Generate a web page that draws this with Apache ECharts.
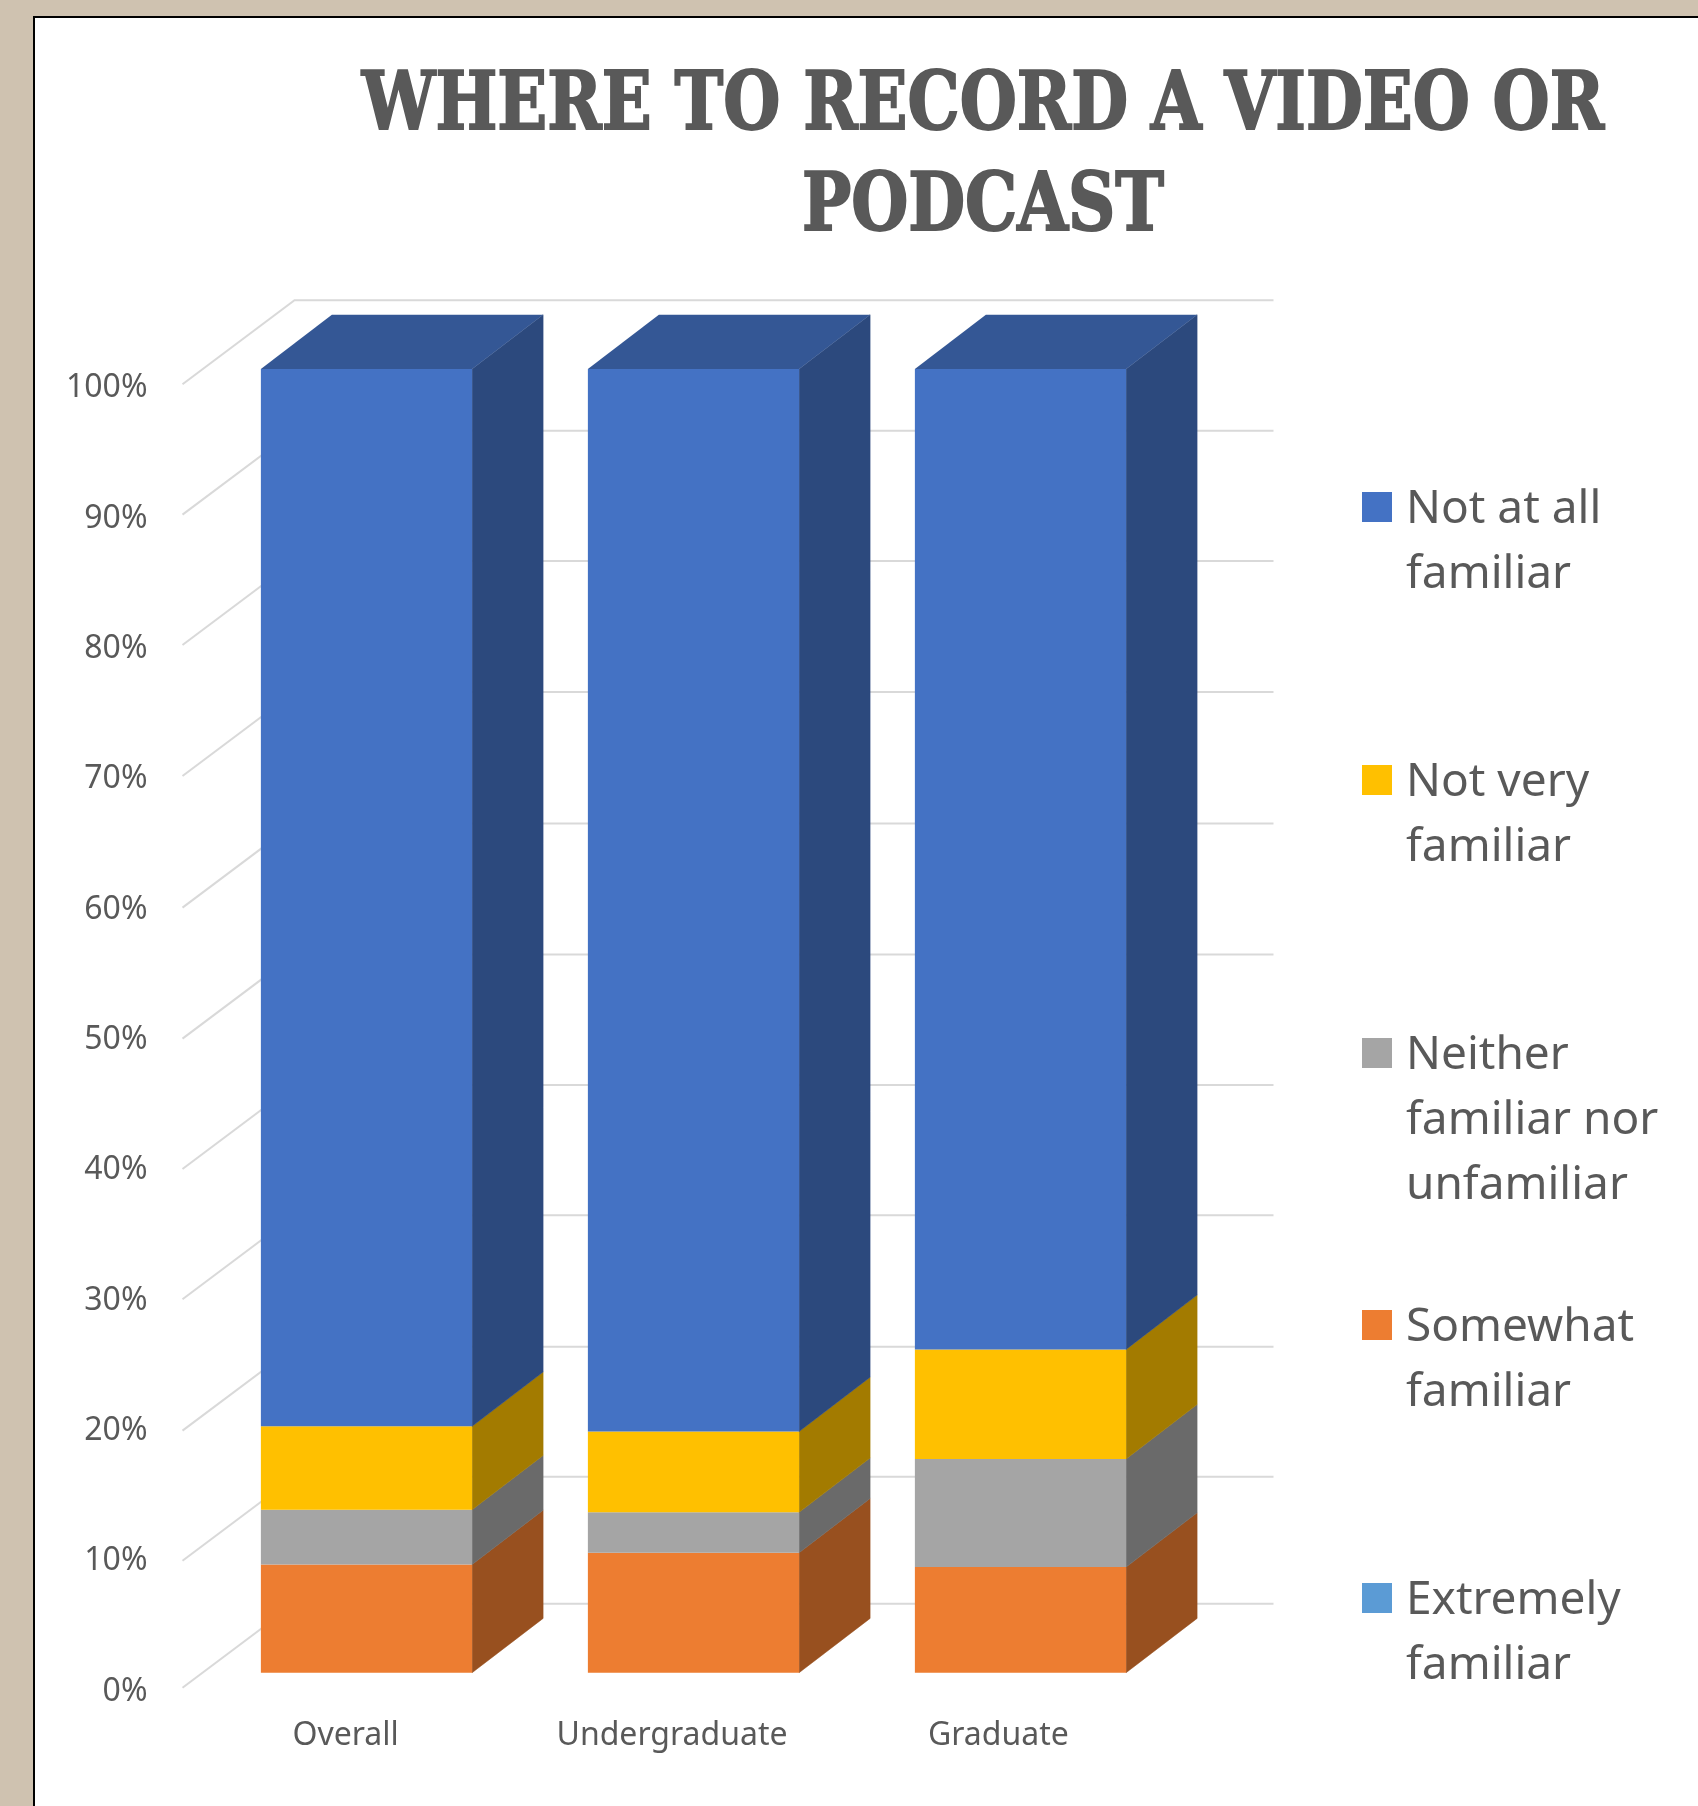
<!DOCTYPE html>
<html><head><meta charset="utf-8"><title>Where to record a video or podcast</title>
<style>html,body{margin:0;padding:0;background:#CFC2B0}#c{width:1698px;height:1806px}</style>
<script src="https://cdn.jsdelivr.net/npm/echarts@6/dist/echarts.min.js"></script>
</head><body><div id="c"></div>
<script>
const categories = ['Overall', 'Undergraduate', 'Graduate'];
const wallLevels = [0, 9.74, 19.72, 29.8, 39.8, 49.8, 59.85, 69.95, 80, 90, 100];
const extremelyFamiliar = [0, 0, 0];
const somewhatFamiliar = [8.3, 9.2, 8.1];
const neitherFamiliar = [4.2, 3.1, 8.3];
const notVeryFamiliar = [6.4, 6.2, 8.4];
const notAtAllFamiliar = [81.1, 81.5, 75.2];
const stackOrder = [
  {name: 'Extremely\nfamiliar', values: extremelyFamiliar, color: '#5B9BD5'},
  {name: 'Somewhat\nfamiliar', values: somewhatFamiliar, color: '#ED7D31'},
  {name: 'Neither\nfamiliar nor\nunfamiliar', values: neitherFamiliar, color: '#A5A5A5'},
  {name: 'Not very\nfamiliar', values: notVeryFamiliar, color: '#FFC000'},
  {name: 'Not at all\nfamiliar', values: notAtAllFamiliar, color: '#4472C4'}
];
const legendOrder = [4, 3, 2, 1, 0];
const legendCenters = [507, 780, 1053, 1325, 1598];

function shade(hex, f) {
  const n = parseInt(hex.slice(1), 16);
  return 'rgb(' + [n >> 16, (n >> 8) & 255, n & 255].map(v => Math.round(v * f)).join(',') + ')';
}
const BAR_DX = 71, BAR_DY = -54.3, WALL_DX = 112, WALL_DY = -84, BAR_RATIO = 0.646;

const cumulative = [0, 0, 0];
const barSeries = stackOrder.map((s, si) => {
  const rows = s.values.map((v, i) => { const r = [i, cumulative[i], cumulative[i] + v]; cumulative[i] += v; return r; });
  const isTop = si === stackOrder.length - 1;
  return {
    type: 'custom', name: s.name, xAxisIndex: 0, yAxisIndex: 0, z: 5, clip: false, silent: true,
    itemStyle: {color: s.color},
    encode: {x: 0, y: [1, 2]},
    data: rows,
    renderItem(params, api) {
      const i = api.value(0), a = api.value(1), b = api.value(2);
      if (b <= a) return {type: 'group', children: []};
      const pa = api.coord([i, a]), pb = api.coord([i, b]);
      const w = api.size([1, 0])[0] * BAR_RATIO;
      const l = pa[0] - w / 2, r = pa[0] + w / 2;
      const side = shade(s.color, 0.64);
      const children = [
        {type: 'polygon', shape: {points: [[r, pb[1]], [r + BAR_DX, pb[1] + BAR_DY], [r + BAR_DX, pa[1] + BAR_DY], [r, pa[1]]]},
         style: {fill: side, stroke: side, lineWidth: 0.5}},
        {type: 'rect', shape: {x: l, y: pb[1], width: w, height: pa[1] - pb[1]}, style: {fill: s.color}}
      ];
      if (isTop) children.push({type: 'polygon', shape: {points: [[l, pb[1]], [l + BAR_DX, pb[1] + BAR_DY], [r + BAR_DX, pb[1] + BAR_DY], [r, pb[1]]]},
        style: {fill: shade(s.color, 0.76)}});
      return {type: 'group', children};
    }
  };
});

const wallSeries = {
  type: 'custom', name: 'walls', xAxisIndex: 1, yAxisIndex: 1, z: 1, clip: false, silent: true,
  encode: {x: 0, y: 1},
  data: wallLevels.map(t => [0, t]),
  renderItem(params, api) {
    const y = api.coord([0, api.value(1)])[1];
    const x0 = params.coordSys.x, x1 = x0 + params.coordSys.width;
    return {type: 'polyline', shape: {points: [[x0, y], [x0 + WALL_DX, y + WALL_DY], [x1 + WALL_DX, y + WALL_DY]]},
      style: {stroke: '#D9D9D9', lineWidth: 2, fill: null}};
  }
};

const legends = legendOrder.map((k, idx) => {
  const name = stackOrder[k].name, lines = name.split('\n').length;
  const h = 35 + (lines - 1) * 65;
  return {
    show: true, orient: 'vertical', left: 1362, top: legendCenters[idx] - 30, padding: 0,
    itemWidth: 39, itemHeight: h, selectedMode: false,
    textStyle: {fontFamily: 'Noto Sans', fontSize: 46, lineHeight: 65, color: '#595959'},
    data: [{name, icon: 'path://M0 0H30V30H0Z M39 ' + h + 'L39 ' + h}]
  };
});

const option = {
  animation: false,
  backgroundColor: '#CFC2B0',
  grid: [
    {left: 203, width: 981, top: 369, height: 1303.7},
    {left: 182.5, width: 979, top: 384.3, height: 1303.4}
  ],
  xAxis: [
    {gridIndex: 0, type: 'category', data: categories, show: false},
    {gridIndex: 1, type: 'category', data: categories, axisLine: {show: false}, axisTick: {show: false},
     axisLabel: {fontFamily: 'Noto Sans', fontSize: 32, color: '#595959', margin: 32.5}}
  ],
  yAxis: [
    {gridIndex: 0, type: 'value', min: 0, max: 100, interval: 10, show: false},
    {gridIndex: 1, type: 'value', min: 0, max: 100, interval: 10, axisLine: {show: false}, axisTick: {show: false}, splitLine: {show: false},
     axisLabel: {fontFamily: 'Noto Sans', fontSize: 32, color: '#595959', margin: 35, formatter: '{value}%', verticalAlign: 'top', lineHeight: 8}}
  ],
  legend: legends,
  graphic: {elements: [
    {type: 'rect', z: -10, silent: true, shape: {x: 34, y: 17, width: 1700, height: 1830}, style: {fill: '#fff', stroke: '#000', lineWidth: 2}},
    {type: 'text', z: 3, silent: true, x: 983, y: 158.5, scaleX: 0.819, scaleY: 1,
     style: {text: 'WHERE TO RECORD A VIDEO OR\nPODCAST', fontFamily: 'DejaVu Serif', fontWeight: 'bold', fontSize: 80, lineHeight: 101,
       fill: '#595959', stroke: '#595959', lineWidth: 2, align: 'center', verticalAlign: 'middle'}}
  ]},
  series: [wallSeries].concat(barSeries)
};
echarts.init(document.getElementById('c'), null, {renderer: 'canvas'}).setOption(option);
</script></body></html>
